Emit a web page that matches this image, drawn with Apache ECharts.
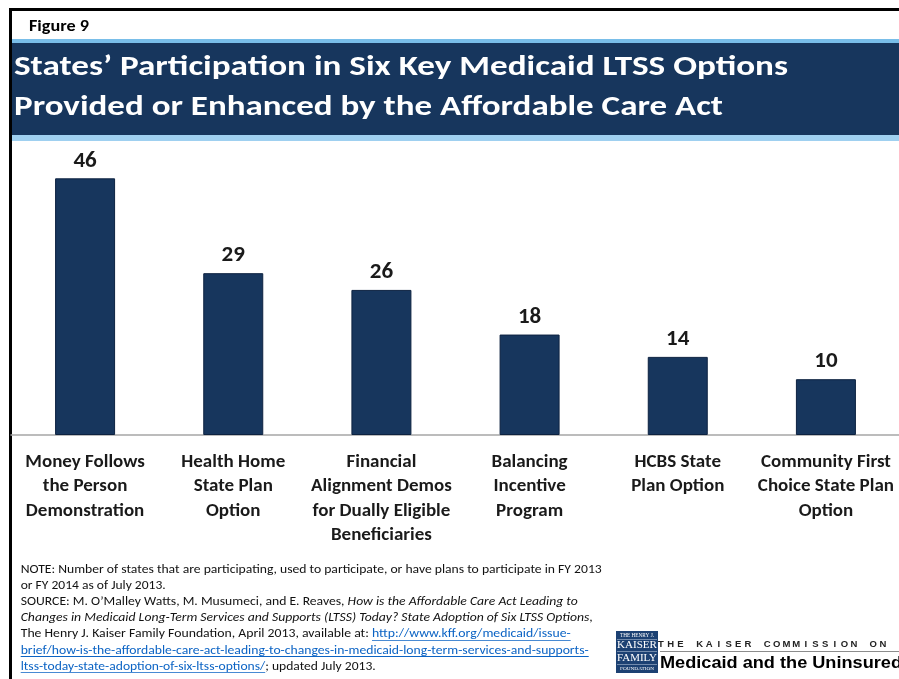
<!DOCTYPE html>
<html>
<head>
<meta charset="utf-8">
<script src="https://cdn.jsdelivr.net/npm/echarts@6/dist/echarts.min.js"></script>
<style>
  html, body { margin: 0; padding: 0; background: #ffffff; }
  #chart { width: 899px; height: 679px; }
</style>
</head>
<body>
<div id="chart"></div>
<script>
// ---- data ----
const categories = [
  'Money Follows\nthe Person\nDemonstration',
  'Health Home\nState Plan\nOption',
  'Financial\nAlignment Demos\nfor Dually Eligible\nBeneficiaries',
  'Balancing\nIncentive\nProgram',
  'HCBS State\nPlan Option',
  'Community First\nChoice State Plan\nOption'
];
const participatingStates = [46, 29, 26, 18, 14, 10];

const figureLabel = 'Figure 9';
const titleLines = [
  'States\u2019 Participation in Six Key Medicaid LTSS Options',
  'Provided or Enhanced by the Affordable Care Act'
];

// note lines: segments of [text, kind]  (n = normal, i = italic, a = link)
const noteLines = [
  [['NOTE: Number of states that are participating, used to participate, or have plans to participate in FY 2013', 'n']],
  [['or FY 2014 as of July 2013.', 'n']],
  [['SOURCE: M. O\u2019Malley Watts, M. Musumeci, and E. Reaves, ', 'n'], ['How is the Affordable Care Act Leading to', 'i']],
  [['Changes in Medicaid Long-Term Services and Supports (LTSS) Today? State Adoption of Six LTSS Options', 'i'], [',', 'n']],
  [['The Henry J. Kaiser Family Foundation, April 2013, available at: ', 'n'], ['http://www.kff.org/medicaid/issue-', 'a']],
  [['brief/how-is-the-affordable-care-act-leading-to-changes-in-medicaid-long-term-services-and-supports-', 'a']],
  [['ltss-today-state-adoption-of-six-ltss-options/', 'a'], ['; updated July 2013.', 'n']]
];
const noteWidths = [581, 145, 557, 572, 550, 568, 355];

const logoBoxLines = ['THE HENRY J.', 'KAISER', 'FAMILY', 'FOUNDATION'];
const commissionLine = 'THE KAISER COMMISSION ON';
const programLine = 'Medicaid and the Uninsured';

// ---- helpers ----
const FONT = 'Carlito, Lato, sans-serif';
const NAVY = '#17365d';
const measureCtx = document.createElement('canvas').getContext('2d');
function textWidth(str, style, weight, size, family) {
  measureCtx.font = style + ' ' + weight + ' ' + size + 'px ' + family;
  return measureCtx.measureText(str).width;
}

const graphics = [];

// frame
graphics.push({ type: 'rect', shape: { x: 9, y: 8, width: 890, height: 3 }, style: { fill: '#000' }, silent: true });
graphics.push({ type: 'rect', shape: { x: 9, y: 8, width: 3, height: 671 }, style: { fill: '#000' }, silent: true });

// figure number
(function () {
  const w = textWidth(figureLabel, 'normal', 'bold', 15, FONT);
  graphics.push({
    type: 'text', x: 29, y: 27.5, scaleX: 60 / w,
    style: { text: figureLabel, font: 'bold 15px ' + FONT, fill: '#000', verticalAlign: 'middle' }
  });
})();

// title band
graphics.push({ type: 'rect', shape: { x: 12, y: 39, width: 887, height: 6 }, style: { fill: '#79bee9' }, silent: true });
graphics.push({ type: 'rect', shape: { x: 12, y: 134, width: 887, height: 7 }, style: { fill: '#9fd0f0' }, silent: true });
graphics.push({ type: 'rect', shape: { x: 12, y: 43, width: 887, height: 92 }, style: { fill: NAVY }, silent: true });

const titleTargets = [774, 709];
const titleY = [68, 108];
titleLines.forEach(function (line, k) {
  const w = textWidth(line, 'normal', 'bold', 29, FONT);
  graphics.push({
    type: 'text', x: 14, y: titleY[k], scaleX: titleTargets[k] / w,
    style: { text: line, font: 'bold 29px ' + FONT, fill: '#ffffff', verticalAlign: 'middle' }
  });
});

// notes
const NOTE_SIZE = 12;
noteLines.forEach(function (segs, k) {
  const children = [];
  let x = 0;
  segs.forEach(function (seg) {
    const style = seg[1] === 'i' ? 'italic' : 'normal';
    const w = textWidth(seg[0], style, 'normal', NOTE_SIZE, FONT);
    const color = seg[1] === 'a' ? '#0b63c4' : '#111111';
    children.push({
      type: 'text', x: x, y: 0,
      style: { text: seg[0], font: style + ' normal ' + NOTE_SIZE + 'px ' + FONT, fill: color, verticalAlign: 'middle' }
    });
    if (seg[1] === 'a') {
      children.push({
        type: 'line', shape: { x1: x, y1: 6, x2: x + w, y2: 6 },
        style: { stroke: color, lineWidth: 0.9 }
      });
    }
    x += w;
  });
  graphics.push({
    type: 'group', x: 20.7, y: 570 + k * 16.1, scaleX: noteWidths[k] / x,
    children: children
  });
});

// foundation logo box
graphics.push({ type: 'rect', shape: { x: 616, y: 631, width: 42, height: 42 }, style: { fill: '#1c4173' }, silent: true });
const boxSpec = [
  { y: 635.5, size: 5.5, w: 34 },
  { y: 645.5, size: 11, w: 40 },
  { y: 658.5, size: 11, w: 40 },
  { y: 669, size: 5, w: 34 }
];
logoBoxLines.forEach(function (t, k) {
  const s = boxSpec[k];
  const w = textWidth(t, 'normal', 'normal', s.size, 'Liberation Serif');
  graphics.push({
    type: 'text', x: 637, y: s.y, scaleX: s.w / w,
    style: { text: t, font: 'normal ' + s.size + 'px Liberation Serif', fill: '#ffffff', align: 'center', verticalAlign: 'middle' }
  });
});
[639.5, 651.5, 664.5].forEach(function (yy) {
  graphics.push({ type: 'line', shape: { x1: 617, y1: yy, x2: 657, y2: yy }, style: { stroke: '#c9d6e8', lineWidth: 0.5 } });
});

// spaced commission line
let cx = 661;
commissionLine.split('').forEach(function (ch) {
  if (ch !== ' ') {
    graphics.push({
      type: 'text', x: cx, y: 644,
      style: { text: ch, font: 'bold 9.5px Liberation Sans', fill: '#222', align: 'center', verticalAlign: 'middle' }
    });
  }
  cx += 9.65;
});
graphics.push({ type: 'line', shape: { x1: 660, y1: 651.5, x2: 899, y2: 651.5 }, style: { stroke: '#8c8c8c', lineWidth: 1 } });
(function () {
  const w = textWidth(programLine, 'normal', 'bold', 17, 'Liberation Sans');
  graphics.push({
    type: 'text', x: 660, y: 663, scaleX: 242 / w,
    style: { text: programLine, font: 'bold 17px Liberation Sans', fill: '#000', verticalAlign: 'middle' }
  });
})();

// ---- chart ----
const chart = echarts.init(document.getElementById('chart'), null, { renderer: 'canvas' });
chart.setOption({
  animation: false,
  backgroundColor: '#ffffff',
  grid: { left: 11, top: 156, width: 889, bottom: 244, outerBoundsMode: 'none', containLabel: false },
  xAxis: {
    type: 'category',
    data: categories,
    axisTick: { show: false },
    axisLine: { lineStyle: { color: '#a6a6a6', width: 1.5 } },
    axisLabel: {
      interval: 0, margin: 15,
      fontFamily: FONT, fontWeight: 'bold', fontSize: 19, lineHeight: 24.3,
      color: '#1a1a1a'
    }
  },
  yAxis: { type: 'value', min: 0, max: 50, show: false },
  series: [{
    type: 'bar',
    data: participatingStates,
    barWidth: 60,
    itemStyle: { color: NAVY, borderColor: '#0d2240', borderWidth: 1 },
    label: {
      show: true, position: 'top', distance: 6,
      fontFamily: FONT, fontWeight: 'bold', fontSize: 23, color: '#1a1a1a'
    }
  }],
  graphic: graphics
});
</script>
</body>
</html>
